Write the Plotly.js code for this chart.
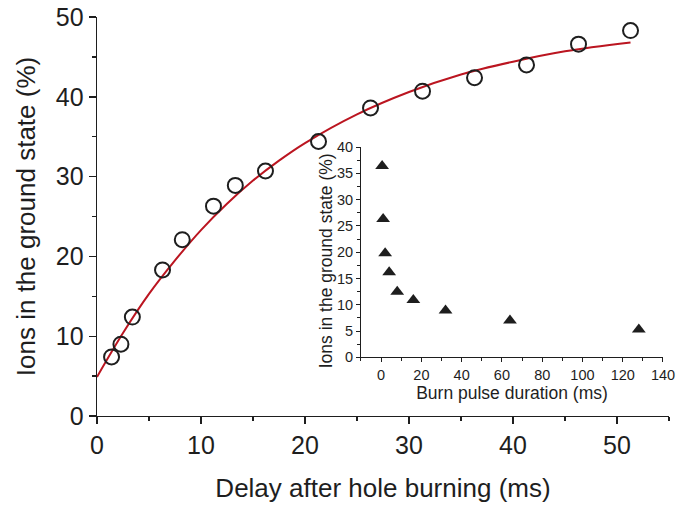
<!DOCTYPE html>
<html>
<head>
<meta charset="utf-8">
<script src="https://cdn.plot.ly/plotly-3.0.1.min.js"></script>
<style>html,body{margin:0;padding:0;background:#fff;}#chart{width:686px;height:505px;}</style>
</head>
<body>
<div id="chart"></div>
<script>
// Main data: delay after hole burning (ms) vs ions in ground state (%)
const delayMs = [1.4, 2.3, 3.4, 6.3, 8.2, 11.2, 13.3, 16.2, 21.3, 26.3, 31.3, 36.3, 41.3, 46.3, 51.3];
const groundPct = [7.4, 9.0, 12.4, 18.3, 22.1, 26.3, 28.9, 30.7, 34.4, 38.6, 40.7, 42.4, 44.0, 46.6, 48.3];

// Fit curve
const fitX = [0, 2.5, 5, 7.5, 10, 12.5, 15, 17.5, 20, 25, 30, 35, 40, 45, 51.3];
const fitY = [4.9, 10.4, 15.3, 19.5, 23.3, 26.6, 29.5, 32.0, 34.2, 37.8, 40.6, 42.8, 44.4, 45.7, 46.8];

// Inset data: burn pulse duration (ms) vs ions in ground state (%)
const burnMs = [0.5, 1, 2, 4, 8, 16, 32, 64, 128];
const insetPct = [36.4, 26.3, 19.8, 16.2, 12.5, 10.9, 8.9, 7.0, 5.3];

const insetYTitle = 'Ions in the ground state (%)';

const font = "Liberation Sans, Arial, sans-serif";
const ink = '#1e1e1e';

const traces = [
  {x: fitX, y: fitY, type: 'scatter', mode: 'lines', line: {color: '#bb1520', width: 2, shape: 'spline'}, hoverinfo: 'skip'},
  {x: delayMs, y: groundPct, type: 'scatter', mode: 'markers',
   marker: {symbol: 'circle-open', size: 15, color: ink, line: {width: 2, color: ink}}},
  {x: burnMs, y: insetPct, type: 'scatter', mode: 'markers', xaxis: 'x2', yaxis: 'y2',
   marker: {symbol: 'triangle-up', size: 12, color: ink}}
];

const layout = {
  width: 686, height: 505,
  margin: {l: 97, r: 17, t: 17, b: 88.5},
  paper_bgcolor: '#fff', plot_bgcolor: 'rgba(0,0,0,0)',
  showlegend: false,
  font: {family: font, color: ink},
  xaxis: {
    domain: [0, 1], range: [0, 55], showgrid: false, zeroline: false,
    showline: true, linecolor: ink, linewidth: 1.4,
    ticks: 'outside', ticklen: 7, tickcolor: ink, tickwidth: 1.4,
    tickvals: [0, 10, 20, 30, 40, 50],
    minor: {tickvals: [5, 15, 25, 35, 45, 55], ticks: 'outside', ticklen: 4, tickcolor: ink, tickwidth: 1.4},
    tickfont: {size: 25, family: font, color: ink},
    title: {text: 'Delay after hole burning (ms)', font: {size: 26, family: font, color: ink}, standoff: 20}
  },
  yaxis: {
    domain: [0, 1], range: [0, 50], showgrid: false, zeroline: false,
    showline: true, linecolor: ink, linewidth: 1.4,
    ticks: 'outside', ticklen: 7, tickcolor: ink, tickwidth: 1.4,
    tickvals: [0, 10, 20, 30, 40, 50],
    minor: {tickvals: [5, 15, 25, 35, 45], ticks: 'outside', ticklen: 4, tickcolor: ink, tickwidth: 1.4},
    tickfont: {size: 25, family: font, color: ink},
    title: {text: 'Ions in the ground state (%)', font: {size: 26, family: font, color: ink}, standoff: 12}
  },
  xaxis2: {
    domain: [0.4615, 0.9895], range: [-10, 140], anchor: 'y2', showgrid: false, zeroline: false,
    showline: true, linecolor: ink, linewidth: 1,
    ticks: 'outside', ticklen: 4, tickcolor: ink, tickwidth: 1,
    tickvals: [0, 20, 40, 60, 80, 100, 120, 140],
    minor: {tickvals: [-10, 10, 30, 50, 70, 90, 110, 130], ticks: 'outside', ticklen: 2.5, tickcolor: ink, tickwidth: 1},
    tickfont: {size: 14.5, family: font, color: ink},
    title: {text: 'Burn pulse duration (ms)', font: {size: 17.5, family: font, color: ink}, standoff: 5}
  },
  yaxis2: {
    domain: [0.147, 0.674], range: [0, 40], anchor: 'x2', showgrid: false, zeroline: false,
    showline: true, linecolor: ink, linewidth: 1,
    ticks: 'outside', ticklen: 4, tickcolor: ink, tickwidth: 1,
    tickvals: [0, 5, 10, 15, 20, 25, 30, 35, 40],
    minor: {tickvals: [2.5, 7.5, 12.5, 17.5, 22.5, 27.5, 32.5, 37.5], ticks: 'outside', ticklen: 2.5, tickcolor: ink, tickwidth: 1},
    tickfont: {size: 14.5, family: font, color: ink}
  },
  annotations: [{
    text: insetYTitle, xref: 'paper', yref: 'paper', x: 0.3995, y: 0.389,
    xanchor: 'center', yanchor: 'middle', textangle: -90, showarrow: false,
    font: {size: 17.5, family: font, color: ink}
  }]
};

Plotly.newPlot('chart', traces, layout, {displayModeBar: false, staticPlot: true});
</script>
</body>
</html>
